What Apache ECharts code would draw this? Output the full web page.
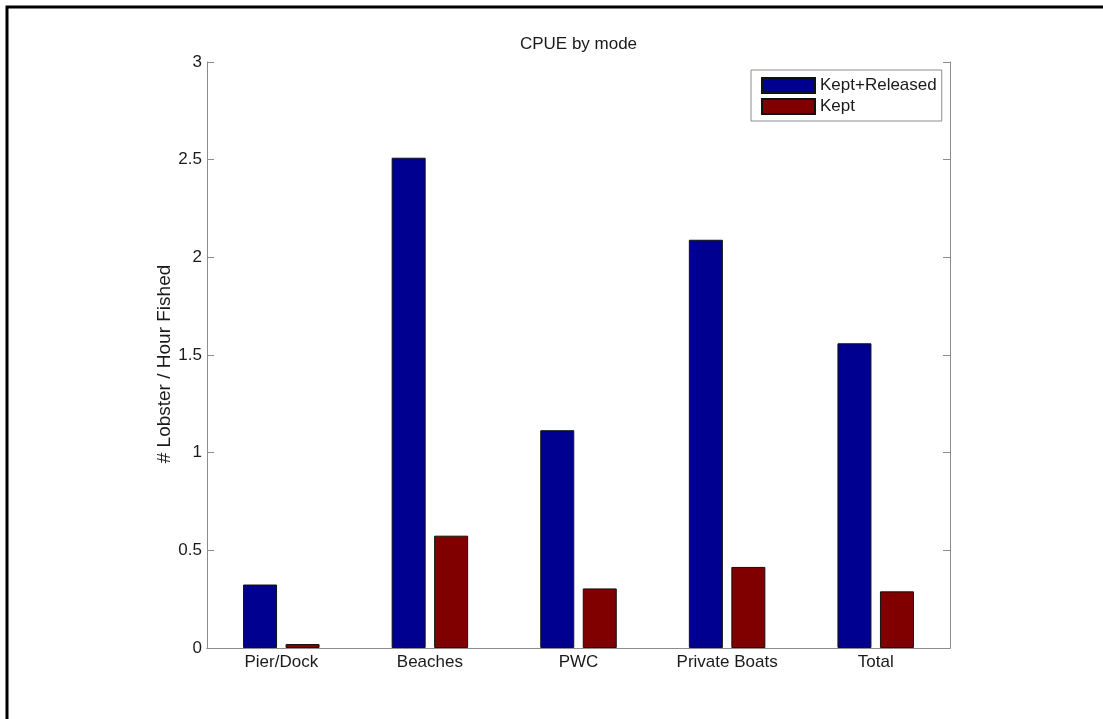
<!DOCTYPE html>
<html>
<head>
<meta charset="utf-8">
<script src="https://cdn.jsdelivr.net/npm/echarts@6/dist/echarts.min.js"></script>
<style>
html,body{margin:0;padding:0;background:#fff;}
#chart{width:1103px;height:719px;}
</style>
</head>
<body>
<div id="chart"></div>
<script>
var categories = ['Pier/Dock', 'Beaches', 'PWC', 'Private Boats', 'Total'];
var keptReleased = [0.325, 2.51, 1.115, 2.09, 1.56];
var kept = [0.02, 0.575, 0.305, 0.415, 0.29];
var seriesNames = ['Kept+Released', 'Kept'];
var titleText = 'CPUE by mode';
var yAxisName = '# Lobster / Hour Fished';

var FONT = 'Liberation Sans, Arial, sans-serif';
var AXIS_COLOR = '#8c8c8c';
var chart = echarts.init(document.getElementById('chart'), null, {renderer: 'canvas'});
chart.setOption({
  animation: false,
  backgroundColor: '#fff',
  title: {
    text: titleText,
    left: 578.5,
    top: 36,
    textAlign: 'center',
    padding: 0,
    textStyle: {fontFamily: FONT, fontSize: 17, fontWeight: 'normal', color: '#1a1a1a'}
  },
  legend: {
    orient: 'vertical',
    left: 751,
    top: 70,
    padding: [7, 5, 6, 10],
    itemWidth: 53,
    itemHeight: 15,
    itemGap: 4,
    backgroundColor: '#fff',
    borderColor: '#8c8c8c',
    borderWidth: 1,
    borderRadius: 0,
    icon: 'rect',
    textStyle: {fontFamily: FONT, fontSize: 17, color: '#1a1a1a'},
    data: seriesNames
  },
  grid: {left: 207, right: 153, top: 62, bottom: 71, containLabel: false},
  xAxis: [{
    type: 'category',
    data: categories,
    position: 'bottom',
    axisLine: {lineStyle: {color: AXIS_COLOR, width: 1}},
    axisTick: {inside: true, alignWithLabel: true, length: 7, lineStyle: {color: AXIS_COLOR}},
    axisLabel: {fontFamily: FONT, fontSize: 17, color: '#1a1a1a', margin: 6}
  }, {
    type: 'category',
    data: categories,
    position: 'top',
    axisLine: {lineStyle: {color: AXIS_COLOR, width: 1}},
    axisTick: {inside: true, alignWithLabel: true, length: 7, lineStyle: {color: AXIS_COLOR}},
    axisLabel: {show: false}
  }],
  yAxis: [{
    type: 'value',
    min: 0, max: 3, interval: 0.5,
    position: 'left',
    name: yAxisName,
    nameLocation: 'middle',
    nameGap: 33,
    nameMoveOverlap: false,
    nameTextStyle: {fontFamily: FONT, fontSize: 19, color: '#1a1a1a', padding: [0, 18, 0, 0]},
    axisLine: {show: true, lineStyle: {color: AXIS_COLOR, width: 1}},
    axisTick: {show: true, inside: true, length: 7, lineStyle: {color: AXIS_COLOR}},
    axisLabel: {fontFamily: FONT, fontSize: 17, color: '#1a1a1a', margin: 5},
    splitLine: {show: false}
  }, {
    type: 'value',
    min: 0, max: 3, interval: 0.5,
    position: 'right',
    axisLine: {show: true, lineStyle: {color: AXIS_COLOR, width: 1}},
    axisTick: {show: true, inside: true, length: 7, lineStyle: {color: AXIS_COLOR}},
    axisLabel: {show: false},
    splitLine: {show: false}
  }],
  series: [{
    name: seriesNames[0],
    type: 'bar',
    data: keptReleased,
    barWidth: 34,
    barGap: '25%',
    itemStyle: {color: '#000090', borderColor: '#111', borderWidth: 1}
  }, {
    name: seriesNames[1],
    type: 'bar',
    data: kept,
    barWidth: 34,
    barGap: '25%',
    itemStyle: {color: '#800000', borderColor: '#111', borderWidth: 1}
  }],
  graphic: [{
    type: 'polyline',
    silent: true,
    shape: {points: [[7, 719], [7, 7], [1103, 7]]},
    style: {stroke: '#000', lineWidth: 3, fill: null}
  }]
});
</script>
</body>
</html>
